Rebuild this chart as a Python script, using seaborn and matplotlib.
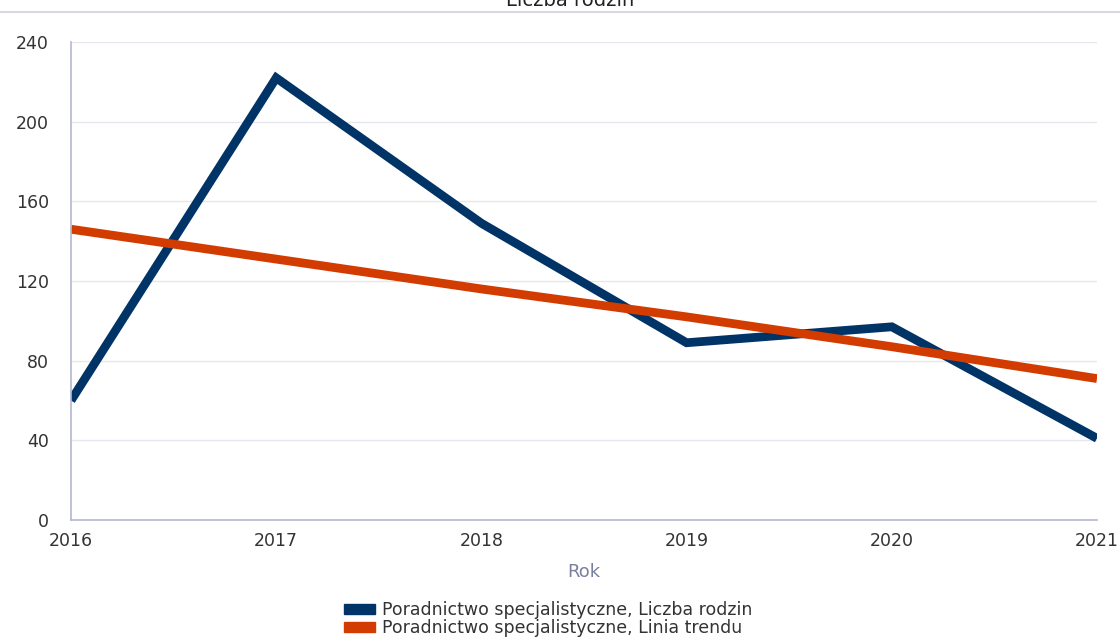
import pandas as pd
import matplotlib.pyplot as plt
import seaborn as sns
from matplotlib.patches import Patch
from matplotlib.lines import Line2D

# dane
lata = [2016, 2017, 2018, 2019, 2020, 2021]
liczba_rodzin = [60, 222, 149, 89, 97, 41]
linia_trendu = [146, 131, 116, 102, 87, 71]
seria_nazwy = ['Poradnictwo specjalistyczne, Liczba rodzin',
               'Poradnictwo specjalistyczne, Linia trendu']
kolory = ['#003366', '#d33c00']

df = pd.DataFrame({
    'Rok': lata * 2,
    'Wartosc': liczba_rodzin + linia_trendu,
    'Seria': [seria_nazwy[0]] * len(lata) + [seria_nazwy[1]] * len(lata),
})

sns.set_style('white')
plt.rcParams['font.family'] = ['DejaVu Sans']

fig = plt.figure(figsize=(11.2, 6.37), dpi=100)
ax = fig.add_axes([71 / 1120, 1 - 520 / 637, (1097 - 71) / 1120, (520 - 42) / 637])

sns.lineplot(data=df, x='Rok', y='Wartosc', hue='Seria', hue_order=seria_nazwy,
             palette=kolory, linewidth=6.3, ax=ax, legend=False,
             solid_capstyle='butt', solid_joinstyle='miter')

ax.set_xlim(2016, 2021)
ax.set_ylim(0, 240)
ax.set_yticks(range(0, 241, 40))
ax.set_xticks(lata)
ax.yaxis.grid(True, color='#e6e6ee', linewidth=1)
ax.set_axisbelow(True)
for s in ['top', 'right']:
    ax.spines[s].set_visible(False)
for s in ['left', 'bottom']:
    ax.spines[s].set_color('#b4b8d0')
    ax.spines[s].set_linewidth(1.2)
ax.tick_params(axis='both', length=0, labelsize=12.5, colors='#333333')
ax.tick_params(axis='y', pad=16)
ax.tick_params(axis='x', pad=9)
ax.set_ylabel('')
ax.set_xlabel('Rok', fontsize=13, color='#7a7f9e', labelpad=9)

# tytul przyciety u gory
fig.text(570 / 1120, 1 - 0 / 637, 'Liczba rodzin', ha='center', va='center',
         fontsize=14, color='#222222')
fig.add_artist(Line2D([0, 1], [1 - 12 / 637] * 2, color='#d8d8e6', linewidth=1.5))

handles = [Patch(color=c, label=n) for c, n in zip(kolory, seria_nazwy)]
fig.legend(handles=handles, loc='center', bbox_to_anchor=(548 / 1120, 1 - 619 / 637),
           frameon=False, fontsize=12.5, handlelength=1.8, handleheight=0.55,
           handletextpad=0.4, labelspacing=0.0, labelcolor='#333333',
           borderpad=0)

fig.savefig('out.png', dpi=100)
